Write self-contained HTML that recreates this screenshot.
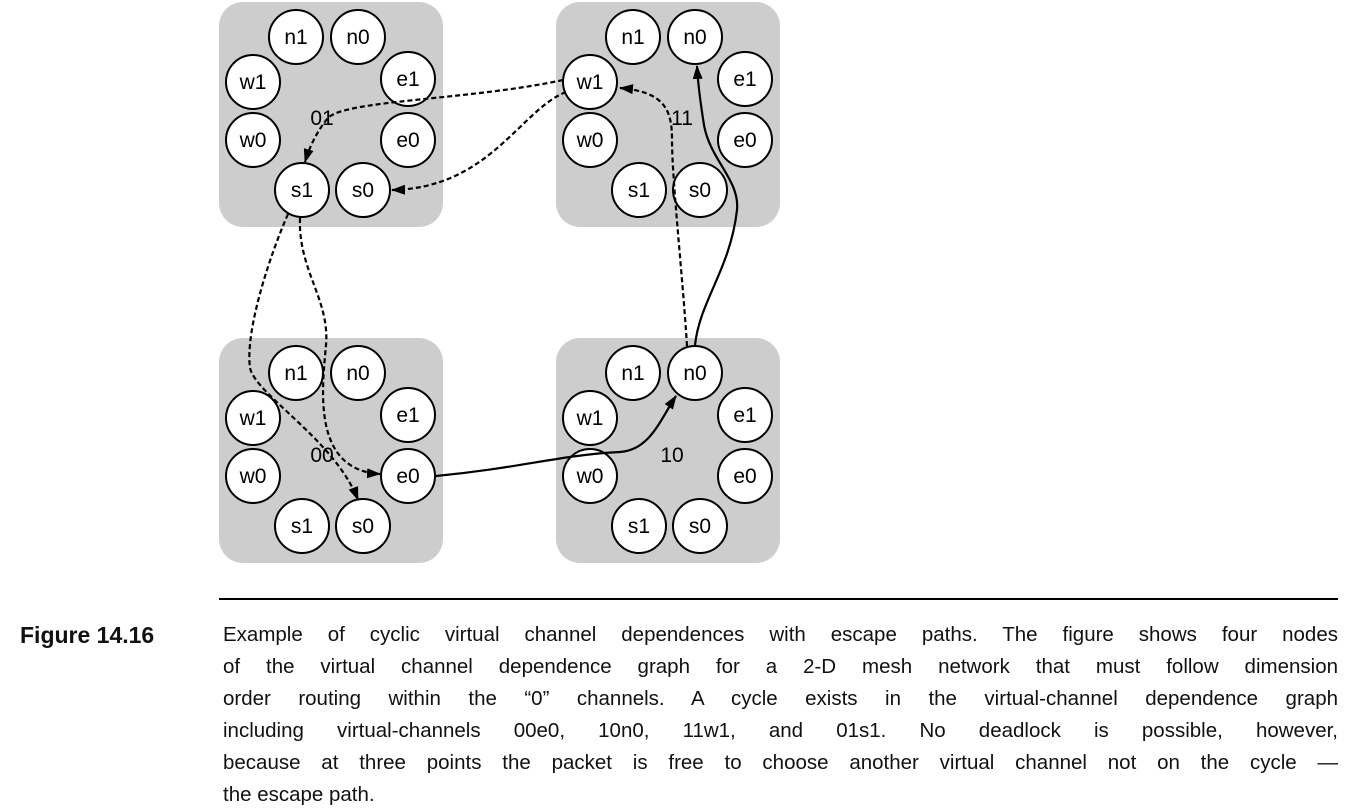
<!DOCTYPE html>
<html><head><meta charset="utf-8"><style>
html,body{margin:0;padding:0;background:#fff;width:1347px;height:812px;overflow:hidden;position:relative}
svg{position:absolute;left:0;top:0}
.cap{position:absolute;left:223px;width:1115px;font-family:"Liberation Sans",sans-serif;font-size:20.5px;color:#111;line-height:32px;top:619px}
.cap div{text-align:justify;text-align-last:justify;height:32px;white-space:nowrap;overflow:visible}
.cap div.last{text-align-last:left}
.fig{position:absolute;left:20px;top:619px;font-family:"Liberation Sans",sans-serif;font-weight:bold;font-size:23px;line-height:32px;color:#111}
</style></head><body>
<svg width="1347" height="812" viewBox="0 0 1347 812" font-family="Liberation Sans, sans-serif">
<defs>
<marker id="ah" markerWidth="14" markerHeight="10" refX="13" refY="5" orient="auto" markerUnits="userSpaceOnUse">
<path d="M0,0 L14,5 L0,10 z" fill="#000"/></marker>
<g id="box">
<rect x="0" y="0" width="224" height="225" rx="24" fill="#cdcdcd"/>
<g fill="#fff" stroke="#000" stroke-width="2">
<circle cx="77" cy="35" r="27"/><circle cx="139" cy="35" r="27"/>
<circle cx="34" cy="80" r="27"/><circle cx="189" cy="77" r="27"/>
<circle cx="34" cy="138" r="27"/><circle cx="189" cy="138" r="27"/>
<circle cx="83" cy="188" r="27"/><circle cx="144" cy="188" r="27"/>
</g>
<g font-size="21" text-anchor="middle" fill="#000">
<text x="77" y="42">n1</text><text x="139" y="42">n0</text>
<text x="34" y="87">w1</text><text x="189" y="84">e1</text>
<text x="34" y="145">w0</text><text x="189" y="145">e0</text>
<text x="83" y="195">s1</text><text x="144" y="195">s0</text>
</g>
</g>
</defs>
<use href="#box" x="219" y="2"/>
<use href="#box" x="556" y="2"/>
<use href="#box" x="219" y="338"/>
<use href="#box" x="556" y="338"/>
<g font-size="21" text-anchor="middle" fill="#000">
<text x="322" y="125">01</text>
<text x="682" y="125">11</text>
<text x="322" y="462">00</text>
<text x="672" y="462">10</text>
</g>
<g fill="none" stroke="#000" stroke-width="2.2">
<g stroke-dasharray="5,3">
<path d="M563,80 C470,100 345,100 328,118 C318,130 310,145 305,162" marker-end="url(#ah)"/>
<path d="M566,92 C520,110 490,188 392,190" marker-end="url(#ah)"/>
<path d="M288,214 C270,255 245,330 250,368 C256,395 335,440 358,500" marker-end="url(#ah)"/>
<path d="M300,218 C298,270 330,300 326,345 C322,390 312,470 380,474" marker-end="url(#ah)"/>
<path d="M687,346 C683,280 672,180 672,140 C672,110 665,92 620,88" marker-end="url(#ah)"/>
</g>
<path d="M436,476 C520,468 560,455 620,452 C650,450 660,420 676,396" marker-end="url(#ah)"/>
<path d="M695,345 C700,300 730,270 737,210 C740,180 710,160 704,125 C700,100 698,85 697,66" marker-end="url(#ah)"/>
<line x1="219" y1="599" x2="1338" y2="599" stroke-width="2"/>
</g>
</svg>
<div class="fig">Figure 14.16</div>
<div class="cap">
<div>Example of cyclic virtual channel dependences with escape paths. The figure shows four nodes</div>
<div>of the virtual channel dependence graph for a 2-D mesh network that must follow dimension</div>
<div>order routing within the “0” channels. A cycle exists in the virtual-channel dependence graph</div>
<div>including virtual-channels 00e0, 10n0, 11w1, and 01s1. No deadlock is possible, however,</div>
<div>because at three points the packet is free to choose another virtual channel not on the cycle —</div>
<div class="last">the escape path.</div>
</div>
</body></html>
